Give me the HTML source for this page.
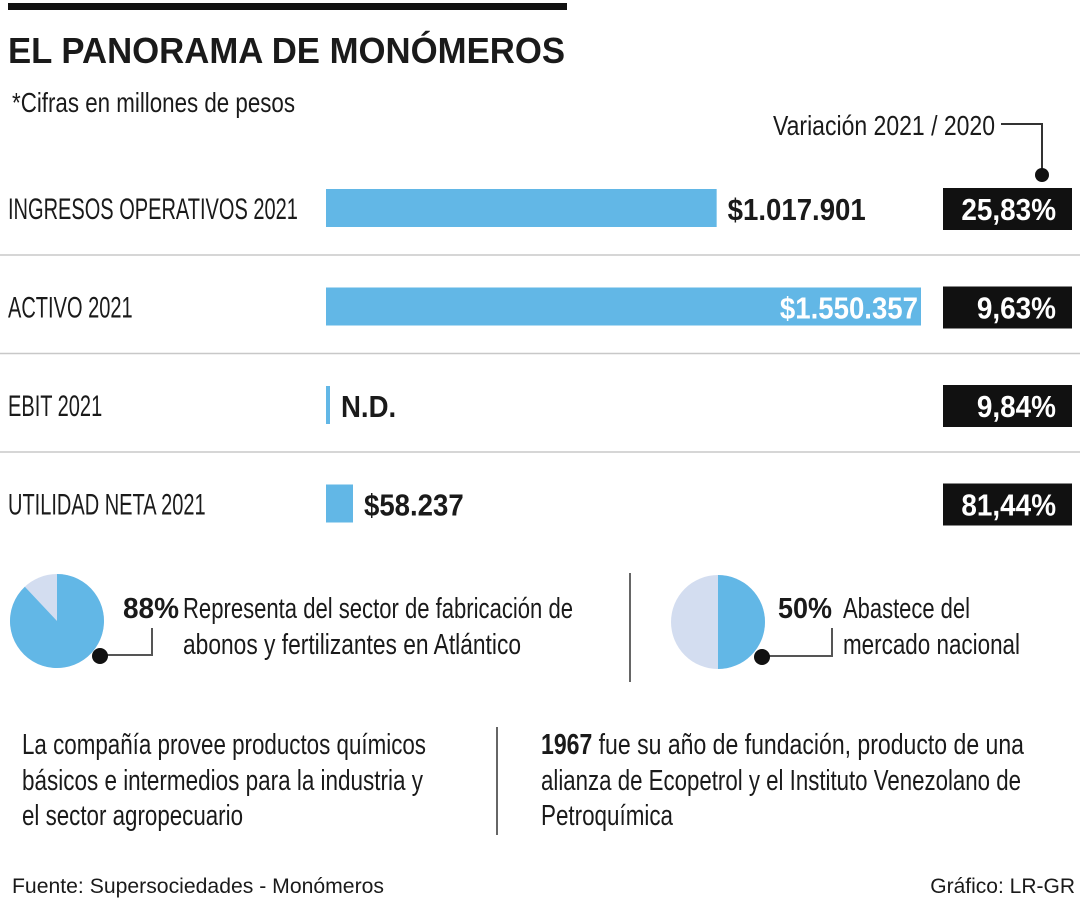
<!DOCTYPE html>
<html><head><meta charset="utf-8"><style>
body{margin:0;background:#fff}
svg{display:block}
text{font-family:"Liberation Sans Narrow","Liberation Sans",sans-serif;fill:#1a1a1a}
.b{font-weight:bold}
</style></head><body>
<svg id="c" width="1080" height="900" viewBox="0 0 1080 900" xmlns="http://www.w3.org/2000/svg">
<rect x="8" y="3" width="559" height="7" fill="#111"/>
<text class="b" x="8" y="63" font-size="36" textLength="557" lengthAdjust="spacingAndGlyphs">EL PANORAMA DE MONÓMEROS</text>
<text x="12" y="112" font-size="28" textLength="283" lengthAdjust="spacingAndGlyphs">*Cifras en millones de pesos</text>
<text x="773" y="135" font-size="28" textLength="222" lengthAdjust="spacingAndGlyphs">Variación 2021 / 2020</text>
<polyline points="1001,124 1042,124 1042,174" fill="none" stroke="#333" stroke-width="2"/>
<circle cx="1042" cy="175" r="7" fill="#111"/>
<g id="rows"></g>
<g id="pie1"></g>
<polyline points="100,655 152,655 152,628" fill="none" stroke="#555" stroke-width="2"/>
<circle cx="100" cy="656" r="8" fill="#111"/>
<text class="b" x="123" y="618" font-size="29" textLength="56" lengthAdjust="spacingAndGlyphs">88%</text>
<text font-size="29"><tspan x="183" y="618" textLength="390" lengthAdjust="spacingAndGlyphs">Representa del sector de fabricación de</tspan><tspan x="183" y="654" textLength="338" lengthAdjust="spacingAndGlyphs">abonos y fertilizantes en Atlántico</tspan></text>
<line x1="630" y1="573" x2="630" y2="682" stroke="#333" stroke-width="1.5"/>
<g id="pie2"></g>
<polyline points="762,656 832,656 832,628" fill="none" stroke="#555" stroke-width="2"/>
<circle cx="762" cy="657" r="8" fill="#111"/>
<text class="b" x="778" y="618" font-size="29" textLength="54" lengthAdjust="spacingAndGlyphs">50%</text>
<text font-size="29"><tspan x="843" y="618" textLength="127" lengthAdjust="spacingAndGlyphs">Abastece del</tspan><tspan x="843" y="654" textLength="177" lengthAdjust="spacingAndGlyphs">mercado nacional</tspan></text>
<text font-size="29"><tspan x="22" y="754" textLength="404" lengthAdjust="spacingAndGlyphs">La compañía provee productos químicos</tspan><tspan x="22" y="790" textLength="401" lengthAdjust="spacingAndGlyphs">básicos e intermedios para la industria y</tspan><tspan x="22" y="825" textLength="221" lengthAdjust="spacingAndGlyphs">el sector agropecuario</tspan></text>
<line x1="497" y1="727" x2="497" y2="835" stroke="#333" stroke-width="1.5"/>
<text font-size="29"><tspan x="541" y="754" textLength="483" lengthAdjust="spacingAndGlyphs"><tspan class="b">1967</tspan> fue su año de fundación, producto de una</tspan><tspan x="541" y="790" textLength="480" lengthAdjust="spacingAndGlyphs">alianza de Ecopetrol y el Instituto Venezolano de</tspan><tspan x="541" y="825" textLength="132" lengthAdjust="spacingAndGlyphs">Petroquímica</tspan></text>
<text x="12" y="893" font-size="21" style="font-family:'Liberation Sans',sans-serif" textLength="372" lengthAdjust="spacingAndGlyphs">Fuente: Supersociedades - Monómeros</text>
<text x="1075" y="893" font-size="21" text-anchor="end" style="font-family:'Liberation Sans',sans-serif">Gráfico: LR-GR</text>
</svg>
<script>
const labels=["INGRESOS OPERATIVOS 2021","ACTIVO 2021","EBIT 2021","UTILIDAD NETA 2021"];
const values=[1017901,1550357,null,58237];
const valueLabels=["$1.017.901","$1.550.357","N.D.","$58.237"];
const variation=["25,83%","9,63%","9,84%","81,44%"];
const pieShares=[88,50];
const NS="http://www.w3.org/2000/svg";
const x0=326,xMax=595,vMax=1550357;
const xs=v=>v==null?4:Math.max(27,v/vMax*xMax);
const rowY=i=>208+i*98.5;
const g=document.getElementById('rows');
function mk(t,a,p){const e=document.createElementNS(NS,t);for(const k in a)e.setAttribute(k,a[k]);(p||g).appendChild(e);return e;}
function squeeze(el,k){const w=el.getComputedTextLength();el.setAttribute('textLength',(w*k).toFixed(1));el.setAttribute('lengthAdjust','spacingAndGlyphs');}
labels.forEach((l,i)=>{
 const cy=rowY(i);
 const t=mk('text',{x:8,y:cy+11,'font-size':30});t.textContent=l;
 
 
 squeeze(t,0.667);
 const w=xs(values[i]);
 const bar=mk('rect',{x:x0,y:cy-19,width:w,height:38,fill:'#62b7e6'});
 
 
 const inside=w>550;
 const vl=mk('text',{x:inside?x0+w-3:x0+w+11,y:cy+12,'font-size':31,'class':'b','text-anchor':inside?'end':'start'});
 vl.textContent=valueLabels[i];
 if(inside)vl.style.fill='#fff';
 
 
 squeeze(vl,0.89);
 const box=mk('rect',{x:943,y:cy-20,width:129,height:42,fill:'#111'});
 
 
 const vt=mk('text',{x:1056,y:cy+12,'font-size':31,'class':'b','text-anchor':'end'});
 vt.textContent=variation[i];vt.style.fill='#fff';
 
 
 squeeze(vt,0.9);
 if(i<3){const ln=mk('line',{x1:0,y1:cy+47,x2:1080,y2:cy+47,stroke:'#c8c8c8','stroke-width':1.5});
 
 }
});
function pie(id,cx,cy,r,pct){
 const p=document.getElementById(id);
 const bg=mk('circle',{cx,cy,r,fill:'#d3ddf0'},p);
 
 
 const a=pct/100*2*Math.PI;
 const ex=cx+r*Math.sin(a),ey=cy-r*Math.cos(a);
 const d=`M${cx},${cy} L${cx},${cy-r} A${r},${r} 0 ${pct>50?1:0} 1 ${ex},${ey} Z`;
 const s=mk('path',{d,fill:'#62b7e6'},p);
 
 
}
pie('pie1',57,621,47,pieShares[0]);
pie('pie2',718,622,47,pieShares[1]);
</script>
</body></html>
